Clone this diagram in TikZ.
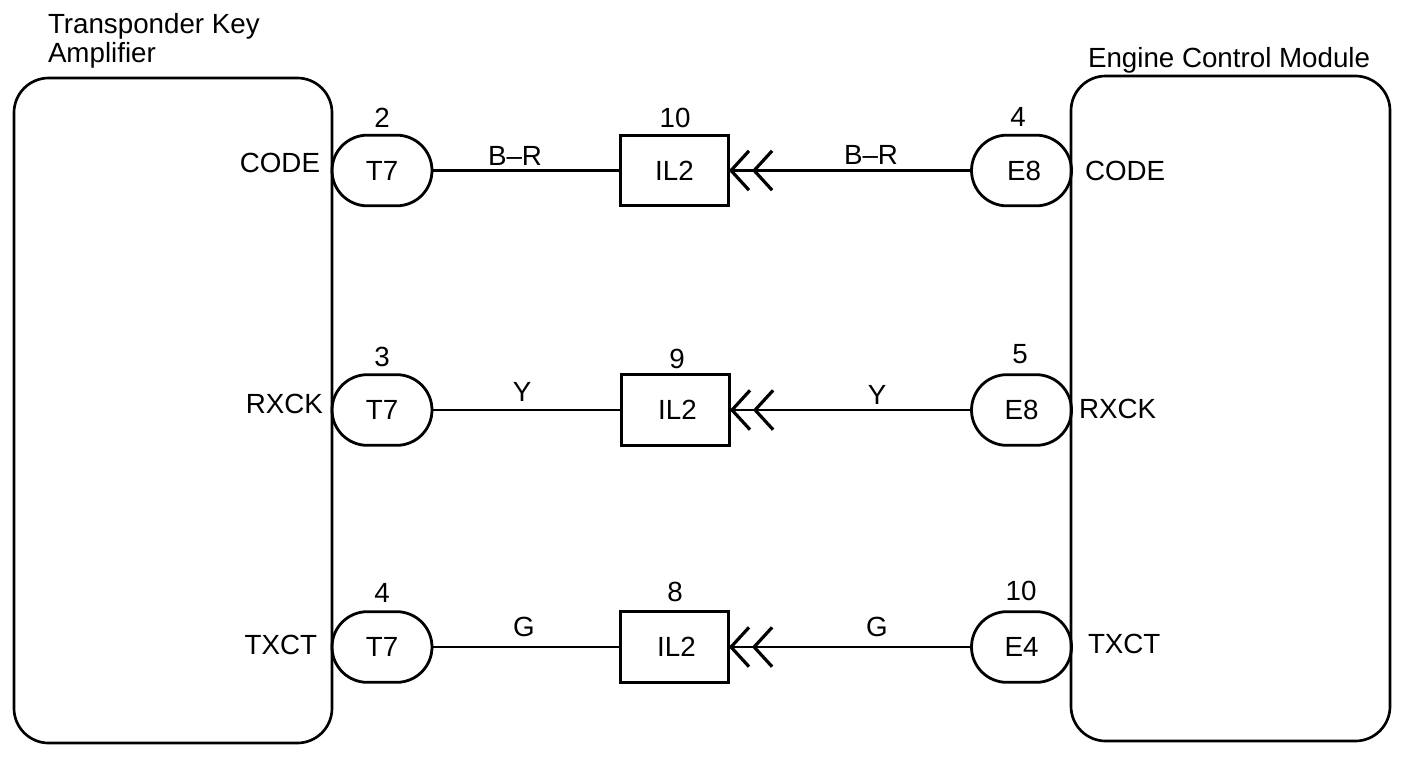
\documentclass[tikz,border=0pt]{standalone}
\usepackage{fontspec}
\setmainfont{Liberation Sans}
\usetikzlibrary{shapes.misc,arrows.meta}
\tikzset{
  x=0.75pt,y=-0.75pt,
  every node/.style={font=\fontsize{20.8}{24}\selectfont,inner sep=0pt,outer sep=0pt,text height=14.9pt,text depth=0pt},
  module/.style={draw,line width=2pt,rounded corners=26pt},
  pill/.style={draw,line width=2.1pt,rounded rectangle,rounded rectangle arc length=180,minimum width=75pt,minimum height=53pt},
  splice/.style={draw,line width=2.1pt,rectangle,minimum width=81.5pt,minimum height=53pt},
  wire/.style={line width=1.6pt},
  chev/.style={line width=1.6pt,-{Straight Barb[length=13.5pt,width=29.5pt,sep=1pt,line width=2.4pt]Straight Barb[length=13.5pt,width=29.5pt,line width=2.4pt]}}
}
\begin{document}
\begin{tikzpicture}
\useasboundingbox (0,0) rectangle (1408,760);
\fill[white] (0,0) rectangle (1408,760);
\draw[module] (14,78) rectangle (332,743);
\draw[module] (1071,76) rectangle (1390,741);
\node[anchor=west] (ampA) at (48,24) {Transponder Key};
\node[anchor=west] (ampB) at (48,53) {Amplifier};
\node[anchor=west] (ecm) at (1088,58) {Engine Control Module};
% row 1
\node[pill] (t1) at (382,170.5) {T7};
\node[splice] (s1) at (674.5,170.5) {IL2};
\node[pill] (e1) at (1021.5,170.5) {\hspace*{4pt}E8};
% row 2
\node[pill] (t2) at (382,410) {T7};
\node[splice] (s2) at (675.5,410) {\hspace*{3pt}IL2};
\node[pill] (e2) at (1021.5,410) {E8};
% row 3
\node[pill] (t3) at (382,647) {T7};
\node[splice] (s3) at (674.5,647) {\hspace*{3pt}IL2};
\node[pill] (e3) at (1021.5,647) {E4};
% connectors
\draw[wire] (t1.east) -- (s1.west);
\draw[wire] (t2.east) -- (s2.west);
\draw[wire] (t3.east) -- (s3.west);
\draw[chev] (e1.west) -- (s1.east);
\draw[chev] (e2.west) -- (s2.east);
\draw[chev] (e3.west) -- (s3.east);
% pin numbers
\node (p1) at (382,118) {2};
\node (p2) at (382,357) {3};
\node (p3) at (382,593) {4};
\node (p4) at (675,118) {10};
\node (p5) at (677,359) {9};
\node (p6) at (675,592) {8};
\node (p7) at (1018,117) {4};
\node (p8) at (1020,354) {5};
\node (p9) at (1021,591) {10};
% wire colours
\node (w1) at (515,156) {B--R};
\node (w2) at (522,392) {Y};
\node (w3) at (524,627) {G};
\node (w4) at (871,155) {B--R};
\node (w5) at (877,395) {Y};
\node (w6) at (877,627) {G};
% terminals
\node[anchor=east] (a1) at (320,163) {CODE};
\node[anchor=east] (a2) at (323,404) {RXCK};
\node[anchor=east] (a3) at (317,645) {TXCT};
\node[anchor=west] (b1) at (1085,171) {CODE};
\node[anchor=west] (b2) at (1079,409) {RXCK};
\node[anchor=west] (b3) at (1088,644) {TXCT};
\end{tikzpicture}
\end{document}
